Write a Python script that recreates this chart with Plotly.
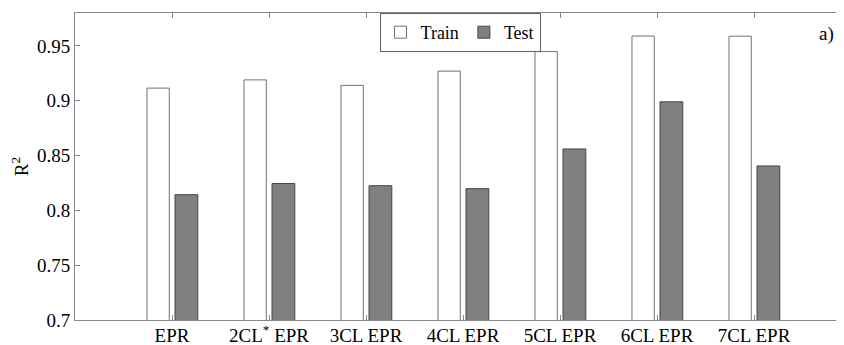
import plotly.graph_objects as go

categories = ["EPR", "2CL<sup>*</sup> EPR", "3CL EPR", "4CL EPR", "5CL EPR", "6CL EPR", "7CL EPR"]
train = [0.9115, 0.919, 0.914, 0.927, 0.9448, 0.959, 0.9589]
test = [0.8143, 0.8245, 0.8225, 0.8198, 0.856, 0.899, 0.8405]
y_ticks = [0.7, 0.75, 0.8, 0.85, 0.9, 0.95]
y_ticktext = ["0.7", "0.75", "0.8", "0.85", "0.9", "0.95"]

xpos = list(range(1, len(categories) + 1))
FONT = "Liberation Serif, Times New Roman, Times, DejaVu Serif, serif"
FS = 19

fig = go.Figure()
fig.add_trace(go.Bar(
    x=xpos, y=train, name="Train", width=0.23, offset=-0.258,
    marker=dict(color="white", line=dict(color="#707070", width=1)),
))
fig.add_trace(go.Bar(
    x=xpos, y=test, name="Test", width=0.235, offset=0.031,
    marker=dict(color="#808080", line=dict(color="#454545", width=1)),
))

fig.update_layout(
    width=836, height=345,
    margin=dict(l=67, r=0, t=5, b=33, autoexpand=False),
    paper_bgcolor="white", plot_bgcolor="white",
    barmode="overlay",
    font=dict(family=FONT, size=FS, color="black"),
    showlegend=True,
    legend=dict(
        orientation="h", x=0.396, y=1.0, xanchor="left", yanchor="top",
        bordercolor="#606060", borderwidth=1, bgcolor="white",
        font=dict(family=FONT, size=18), itemwidth=30,
        tracegroupgap=0,
    ),
    xaxis=dict(
        range=[0, 769 / 97], tickmode="array", tickvals=xpos, ticktext=categories,
        showline=True, linecolor="#888888", linewidth=1, mirror="ticks",
        ticks="inside", ticklen=5, tickcolor="#888888", showgrid=False, zeroline=False,
        tickfont=dict(family=FONT, size=FS), automargin=False, ticklabelstandoff=-2,
    ),
    yaxis=dict(
        range=[0.7, 0.98], tickmode="array", tickvals=y_ticks, ticktext=y_ticktext,
        showline=True, linecolor="#888888", linewidth=1, mirror="ticks",
        ticks="inside", ticklen=5, tickcolor="#888888", showgrid=False, zeroline=False,
        tickfont=dict(family=FONT, size=FS), automargin=False,
        title=dict(text="R<sup>2</sup>", font=dict(family=FONT, size=FS), standoff=10),
    ),
    annotations=[dict(
        text="a)", xref="paper", yref="paper", x=0.99, y=0.93, xanchor="right",
        yanchor="middle", showarrow=False, font=dict(family=FONT, size=FS),
    )],
)

fig.write_html("out.html")
